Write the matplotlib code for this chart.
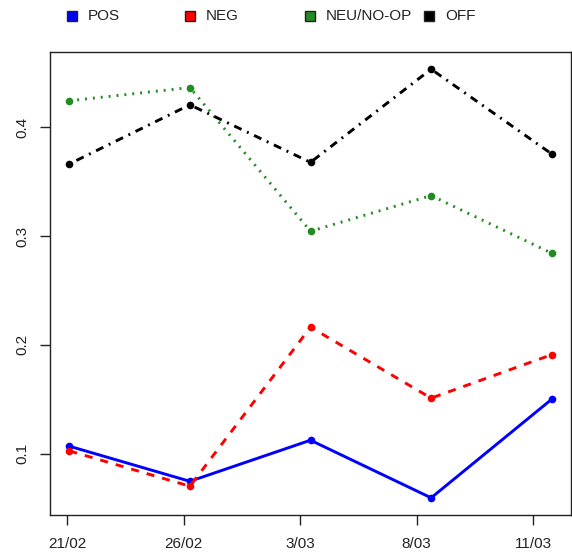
import matplotlib
matplotlib.use("Agg")
import matplotlib.pyplot as plt
from matplotlib.patches import Rectangle

plt.rcParams['font.family'] = ['Liberation Sans', 'DejaVu Sans']
plt.rcParams['lines.scale_dashes'] = False

# fechas y proporciones por categoria
dates = ['21/02', '26/02', '3/03', '8/03', '11/03']
pos = [0.1068, 0.0745, 0.1123, 0.0593, 0.150]
neg = [0.1025, 0.070, 0.2163, 0.151, 0.191]
neu = [0.4245, 0.4367, 0.3045, 0.3373, 0.2843]
off = [0.3664, 0.4208, 0.3679, 0.4536, 0.3756]

names = ['POS', 'NEG', 'NEU/NO-OP', 'OFF']
series = [pos, neg, neu, off]
colors = ['#0000FF', '#FF0000', '#228B22', '#000000']
styles = ['-', (0, (5.8, 5.8)), (0, (1.4, 4.3)), (0, (1.4, 4.3, 5.8, 4.3))]

fig = plt.figure(figsize=(5.72, 5.55), dpi=100)
ax = fig.add_axes([0.0874, 0.0721, 0.9109, 0.8342])

x = list(range(1, len(dates) + 1))
for y, c, ls in zip(series, colors, styles):
    ax.plot(x, y, color=c, linestyle=ls, linewidth=2.1,
            marker='o', markersize=5.5, markeredgewidth=0)

# margen del 4% como en R
allv = [v for s in series for v in s]
lo, hi = min(allv), max(allv)
pad = 0.04 * (hi - lo)
ax.set_ylim(lo - pad, hi + pad)
ax.set_xlim(1 - 0.16, 5 + 0.16)

ax.set_xticks([0.985 + 0.965 * i for i in range(len(dates))])
ax.set_xticklabels(dates)
ax.set_yticks([0.1, 0.2, 0.3, 0.4])
ax.set_yticklabels(['0.1', '0.2', '0.3', '0.4'], rotation=90, va='center')
ax.tick_params(axis='both', direction='out', length=7, width=1,
               labelsize=11, colors='#222222', labelcolor='#222222')
ax.tick_params(axis='x', pad=9)
ax.tick_params(axis='y', pad=8)
for sp in ax.spines.values():
    sp.set_linewidth(1)
    sp.set_color('#222222')

# leyenda horizontal arriba
lx = [0.117, 0.324, 0.534, 0.742]
for name, c, xx in zip(names, colors, lx):
    fig.patches.append(Rectangle((xx, 0.962), 0.017, 0.018, transform=fig.transFigure,
                                 facecolor=c, edgecolor='#222222', linewidth=1))
    fig.text(xx + 0.036, 0.971, name, fontsize=11, va='center', ha='left', color='#222222')

fig.savefig('out.png', dpi=100)
